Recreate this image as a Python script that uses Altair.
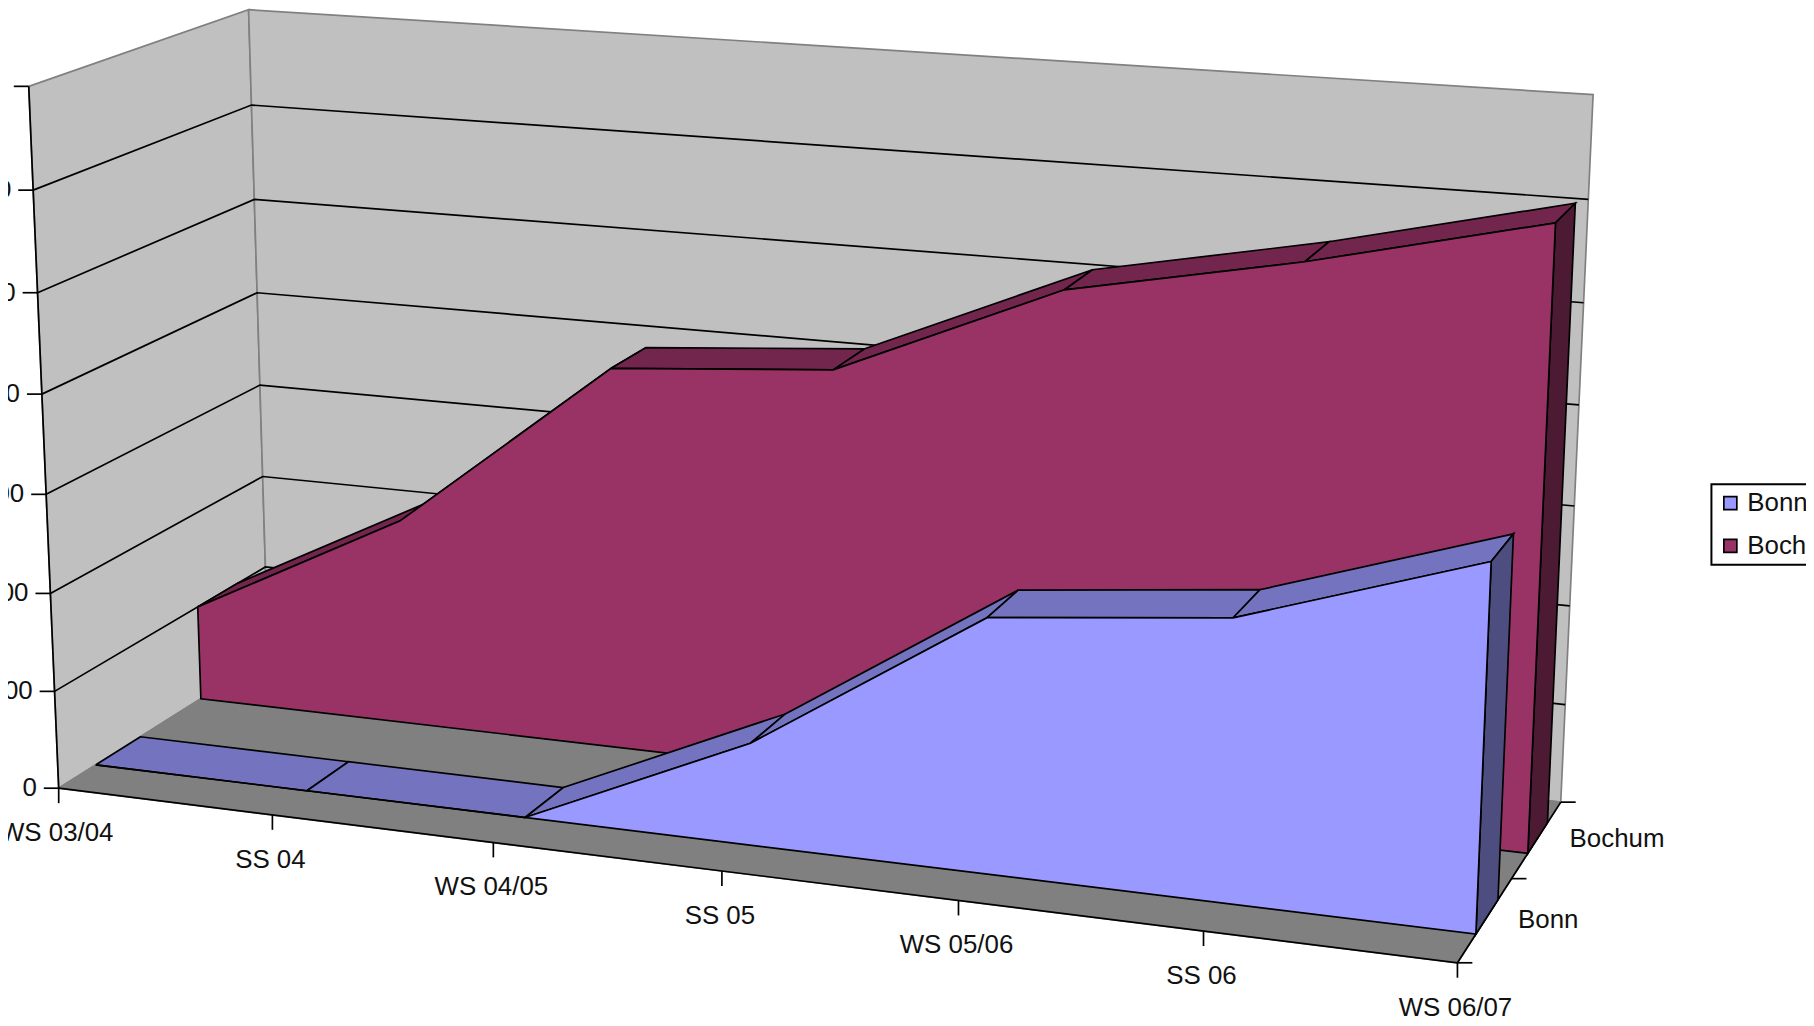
import numpy as np
import pandas as pd
import altair as alt

categories = ["WS 03/04", "SS 04", "WS 04/05", "SS 05", "WS 05/06", "SS 06", "WS 06/07"]
series_names = ["Bonn", "Bochum"]
bonn = [0, 0, 0, 102, 250, 274, 350]
bochum = [100, 215, 394, 412, 510, 555, 609]
value_ticks = [0, 100, 200, 300, 400, 500, 600, 700]

VMAX = 700
W, H = 1806, 1018
FONT = "Liberation Sans"

# camera: where known box corners (category pos, value, depth) land on the page
camera_world = [(0, 700, 0), (0, 700, 1), (1, 700, 1), (0, 0, 0), (0, 0, 1), (1, 0, 1), (1, 0, 0), (1, 300, 1), (0, 300, 1), (0, 300, 0)]
camera_page = [(30, 85), (249, 7), (1600, 93), (59, 788), (270, 659), (1567, 802), (1464, 966), (1582, 506), (261, 384), (45, 494)]

A, b = [], []
for (u, v, d), (sx, sy) in zip(camera_world, camera_page):
    v = v / VMAX
    A.append([u, v, d, 1, 0, 0, 0, 0, -sx * u, -sx * v, -sx * d]); b.append(sx)
    A.append([0, 0, 0, 0, u, v, d, 1, -sy * u, -sy * v, -sy * d]); b.append(sy)
P = np.append(np.linalg.lstsq(np.array(A, float), np.array(b, float), rcond=None)[0], 1).reshape(3, 4)


def proj(i, value, d):
    w = P @ np.array([i / (len(categories) - 1), value / VMAX, d, 1.0])
    return float(w[0] / w[2]), float(w[1] / w[2])


GREY_WALL, GREY_FLOOR = "#C0C0C0", "#808080"
LW = 1.7
rows = []


def poly(points, fill="transparent", stroke="black", sw=LW, close=True):
    pid = len({r["poly"] for r in rows})
    pts = list(points) + ([points[0]] if close else [])
    for k, (x, y) in enumerate(pts):
        rows.append(dict(poly=f"p{pid:03d}", k=k, x=x, y=y, fill=fill, stroke=stroke, sw=sw))


n = len(categories) - 1
# walls and floor
poly([proj(0, VMAX, 0), proj(0, VMAX, 1), proj(0, 0, 1), proj(0, 0, 0)], GREY_WALL, "#808080")
poly([proj(0, VMAX, 1), proj(n, VMAX, 1), proj(n, 0, 1), proj(0, 0, 1)], GREY_WALL, "#808080")
poly([proj(0, 0, 0), proj(n, 0, 0), proj(n, 0, 1), proj(0, 0, 1)], GREY_FLOOR, "#808080")
# gridlines
for v in value_ticks[1:-1]:
    poly([proj(0, v, 0), proj(0, v, 1), proj(n, v, 1)], close=False)
# axis lines
poly([proj(0, VMAX, 0), proj(0, 0, 0)], close=False)
poly([proj(0, 0, 0), proj(n, 0, 0), proj(n, 0, 1)], close=False)
# axis ticks
for v in value_ticks:
    x, y = proj(0, v, 0)
    poly([(x, y), (x - 15, y)], close=False)
for i in range(n + 1):
    x, y = proj(i, 0, 0)
    poly([(x, y), (x, y + 15)], close=False)
for d in (0, 0.5, 1):
    x, y = proj(n, 0, d)
    poly([(x, y), (x + 15, y)], close=False)


def area3d(vals, d0, d1, front, top, side):
    for i in range(n):
        poly([proj(i, vals[i], d0), proj(i + 1, vals[i + 1], d0), proj(i + 1, vals[i + 1], d1), proj(i, vals[i], d1)], top)
    poly([proj(n, vals[n], d0), proj(n, vals[n], d1), proj(n, 0, d1), proj(n, 0, d0)], side)
    outline = [proj(i, vals[i], d0) for i in range(n + 1)] + [proj(n, 0, d0), proj(0, 0, d0)]
    poly(outline, front)


BOCHUM_COLS = ("#993366", "#73264D", "#4D1A33")
BONN_COLS = ("#9999FF", "#7373BF", "#4D4D80")
area3d(bochum, 0.66, 0.86, *BOCHUM_COLS)
area3d(bonn, 0.165, 0.37, *BONN_COLS)

df = pd.DataFrame(rows)
xs = alt.Scale(domain=[8, 8 + W], range=[0, W])
ys = alt.Scale(domain=[8, 8 + H], range=[0, H])
X = alt.X("x:Q", scale=xs, axis=None)
Y = alt.Y("y:Q", scale=ys, axis=None)

shapes = alt.Chart(df).mark_line(clip=False, strokeJoin="miter", interpolate="linear").encode(
    x=X, y=Y, detail="poly:N", order="k:Q",
    fill=alt.Fill("fill:N", scale=None),
    stroke=alt.Stroke("stroke:N", scale=None),
    strokeWidth=alt.StrokeWidth("sw:Q", scale=None),
)


def text_layer(items, align, **kw):
    d = pd.DataFrame([dict(x=a, y=b_, t=t) for a, b_, t in items])
    return alt.Chart(d).mark_text(font=FONT, fontSize=26, color="#111111", align=align, baseline="middle", **kw).encode(x=X, y=Y, text="t:N")


val_labels = text_layer([(*proj(0, v, 0), str(v)) for v in value_ticks], "right", dx=-22)
cat_labels = text_layer([(*proj(i, 0, 0), c) for i, c in enumerate(categories)], "center", dx=-2, dy=45)
ser_labels = text_layer([(*proj(n, 0, d), s) for d, s in zip((0.25, 0.75), series_names)], "left", dx=33)

legend_df = pd.DataFrame({"series": series_names})
legend_layer = alt.Chart(legend_df).mark_square(size=0).encode(
    x=alt.value(0), y=alt.value(0),
    color=alt.Color("series:N", sort=series_names,
                    scale=alt.Scale(domain=series_names, range=[BONN_COLS[0], BOCHUM_COLS[0]]),
                    legend=alt.Legend(orient="none", legendX=1711, legendY=476, title=None, labelFontSize=26,
                                      labelFont=FONT, labelColor="#111111", symbolType="square", symbolSize=170,
                                      symbolStrokeColor="black", symbolStrokeWidth=1.7, symbolOpacity=1,
                                      strokeColor="black", fillColor="white", padding=6, rowPadding=17,
                                      labelOffset=4)),
)

chart = alt.layer(shapes, val_labels, cat_labels, ser_labels, legend_layer).properties(
    width=W, height=H, padding=0, autosize=alt.AutoSizeParams(type="none"), background="white"
).configure_view(stroke=None).configure_legend(strokeWidth=2)

chart.save("out.html", embed_options={"renderer": "svg", "actions": False})
